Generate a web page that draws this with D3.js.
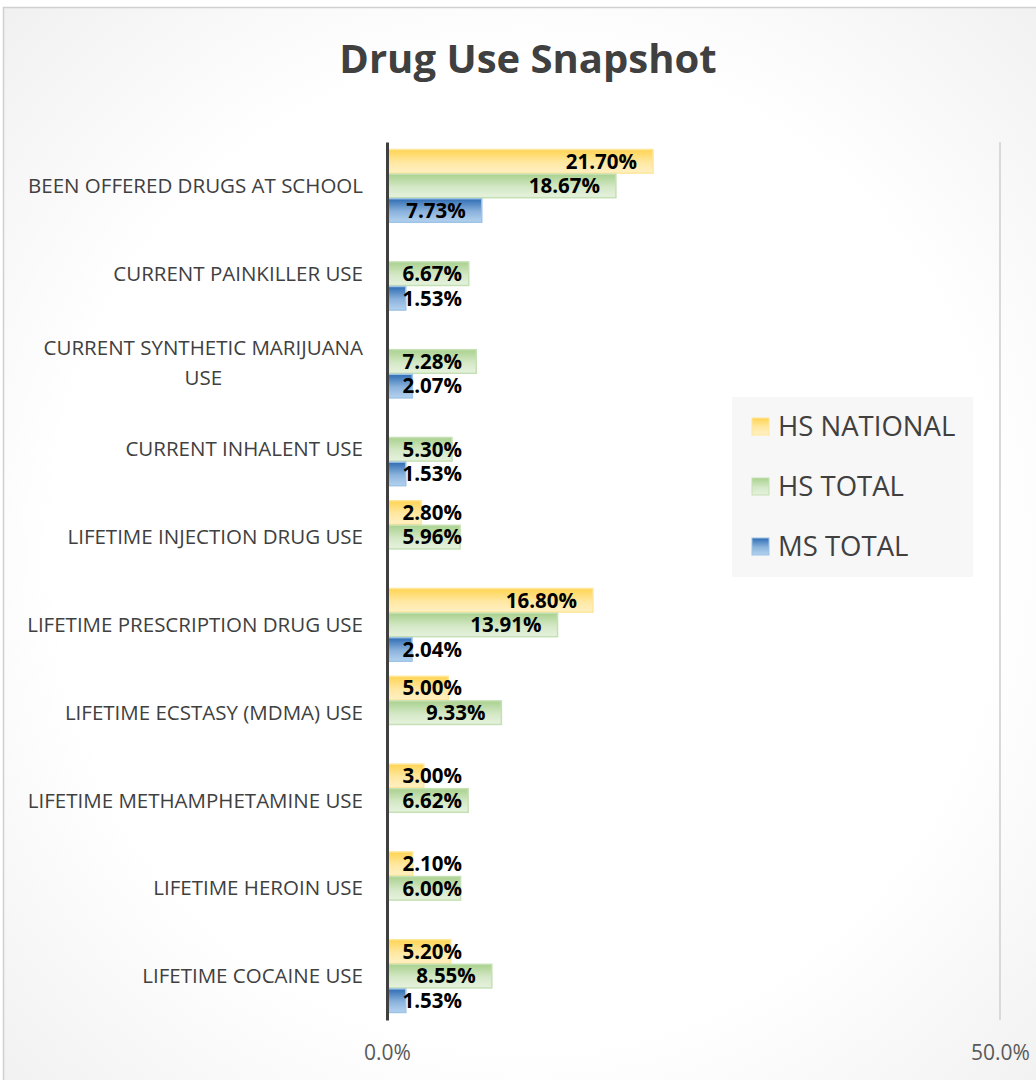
<!DOCTYPE html>
<html><head><meta charset="utf-8">
<script src="https://cdn.jsdelivr.net/npm/d3@7"></script>
<style>body{margin:0;background:#fff;}svg{display:block;}</style>
</head><body>
<script>
const categories = ["BEEN OFFERED DRUGS AT SCHOOL","CURRENT PAINKILLER USE","CURRENT SYNTHETIC MARIJUANA USE","CURRENT INHALENT USE","LIFETIME INJECTION DRUG USE","LIFETIME PRESCRIPTION DRUG USE","LIFETIME ECSTASY (MDMA) USE","LIFETIME METHAMPHETAMINE USE","LIFETIME HEROIN USE","LIFETIME COCAINE USE"];
const seriesNames = ["HS NATIONAL","HS TOTAL","MS TOTAL"];
const hsNational = [21.70, null, null, null, 2.80, 16.80, 5.00, 3.00, 2.10, 5.20];
const hsTotal    = [18.67, 6.67, 7.28, 5.30, 5.96, 13.91, 9.33, 6.62, 6.00, 8.55];
const msTotal    = [7.73, 1.53, 2.07, 1.53, null, 2.04, null, null, null, 1.53];
const xTicks = [0, 50];

const W = 1036, H = 1080;
const svg = d3.select("body").append("svg").attr("width", W).attr("height", H);
const defs = svg.append("defs");

const bg = defs.append("radialGradient").attr("id","bg").attr("cx","50%").attr("cy","50%").attr("r","75%");
bg.append("stop").attr("offset","0%").attr("stop-color","#ffffff");
bg.append("stop").attr("offset","60%").attr("stop-color","#ffffff");
bg.append("stop").attr("offset","100%").attr("stop-color","#eeeeee");

const grads = [
  {id:"gY", top:"#ffd452", bot:"#fff0c4", stroke:"#ffe699"},
  {id:"gG", top:"#a9d18e", bot:"#e6f2de", stroke:"#c5e0b4"},
  {id:"gB", top:"#2e6cb3", bot:"#b4d2ef", stroke:"#9dc3e6"}
];
grads.forEach(g => {
  const lg = defs.append("linearGradient").attr("id", g.id).attr("x1",0).attr("y1",0).attr("x2",0).attr("y2",1);
  lg.append("stop").attr("offset","0%").attr("stop-color", g.top);
  lg.append("stop").attr("offset","55%").attr("stop-color", d3.interpolateRgb(g.top, g.bot)(0.7));
  lg.append("stop").attr("offset","100%").attr("stop-color", g.bot);
});

svg.append("rect").attr("x",3.5).attr("y",7.5).attr("width",W+10).attr("height",H+10)
  .attr("fill","url(#bg)").attr("stroke","#d0d0d0").attr("stroke-width",1.5);

svg.append("text").attr("x",528).attr("y",73).attr("text-anchor","middle")
  .attr("font-family","Open Sans, sans-serif").attr("font-weight","bold").attr("font-size",40)
  .attr("fill","#404040").text("Drug Use Snapshot");

const x0 = 387, x1 = 1000, yTop = 142, yBot = 1020;
const x = d3.scaleLinear().domain([0, 50]).range([x0, x1]);
const y = d3.scaleBand().domain(categories).range([yTop, yBot]).paddingInner(0.16).paddingOuter(0.08);
const ySub = d3.scaleBand().domain(seriesNames).range([0, y.bandwidth()]);

const seriesData = [hsNational, hsTotal, msTotal];

// right gridline
svg.append("line").attr("x1",x(50)).attr("x2",x(50)).attr("y1",yTop).attr("y2",yBot)
  .attr("stroke","#d9d9d9").attr("stroke-width",2);

const gBars = svg.append("g");
seriesData.forEach((arr, si) => {
  arr.forEach((v, ci) => {
    if (v == null) return;
    const yy = y(categories[ci]) + ySub(seriesNames[si]);
    gBars.append("rect").attr("x", x(0)).attr("y", yy + 0.5)
      .attr("width", x(v) - x(0)).attr("height", ySub.bandwidth() - 1)
      .attr("fill", `url(#${grads[si].id})`).attr("stroke", grads[si].stroke).attr("stroke-width", 1.5);
  });
});
seriesData.forEach((arr, si) => {
  arr.forEach((v, ci) => {
    if (v == null) return;
    const yy = y(categories[ci]) + ySub(seriesNames[si]) + ySub.bandwidth()/2;
    svg.append("text").attr("x", Math.max(x(v) - 16, x(0) + 75)).attr("y", yy)
      .attr("dy","0.36em").attr("text-anchor","end")
      .attr("font-family","Open Sans, sans-serif").attr("font-weight","bold").attr("font-size",20.5)
      .attr("fill","#000").text(v.toFixed(2) + "%");
  });
});

// axis line
const yAxis = d3.axisLeft(y).tickSize(0).tickFormat("");
svg.append("g").attr("transform",`translate(${x0},0)`).call(yAxis)
  .select(".domain").attr("stroke","#404040").attr("stroke-width",3);

// category labels
const catFont = 20.5;
categories.forEach(c => {
  const cy = y(c) + y.bandwidth()/2;
  const words = c === "CURRENT SYNTHETIC MARIJUANA USE" ? ["CURRENT SYNTHETIC MARIJUANA","USE"] : [c];
  if (words.length === 1) {
    svg.append("text").attr("x",363).attr("y",cy).attr("dy","0.35em").attr("text-anchor","end")
      .attr("font-family","Open Sans, sans-serif").attr("font-size",catFont).attr("fill","#404040").text(c);
  } else {
    const t1 = svg.append("text").attr("x",363).attr("y",cy - 14).attr("dy","0.35em").attr("text-anchor","end")
      .attr("font-family","Open Sans, sans-serif").attr("font-size",catFont).attr("fill","#404040").text(words[0]);
    const w1 = t1.node().getComputedTextLength();
    svg.append("text").attr("x",363 - w1/2).attr("y",cy + 16).attr("dy","0.35em").attr("text-anchor","middle")
      .attr("font-family","Open Sans, sans-serif").attr("font-size",catFont).attr("fill","#404040").text(words[1]);
  }
});

// x tick labels
const xAxis = d3.axisBottom(x).tickValues(xTicks).tickSize(0).tickPadding(0).tickFormat(d => d.toFixed(1) + "%");
const gx = svg.append("g").attr("transform",`translate(0,1053)`).call(xAxis);
gx.select(".domain").remove();
gx.selectAll("text").attr("font-family","Open Sans, sans-serif").attr("font-size",21).attr("fill","#595959").attr("dy","0.35em");

// legend
const lg = svg.append("g");
lg.append("rect").attr("x",732).attr("y",397).attr("width",241).attr("height",180).attr("fill","#f7f7f7");
seriesNames.forEach((s, i) => {
  const cy = 426 + i*60;
  lg.append("rect").attr("x",752).attr("y",cy-8).attr("width",17).attr("height",17)
    .attr("fill",`url(#${grads[i].id})`).attr("stroke",grads[i].stroke).attr("stroke-width",1);
  lg.append("text").attr("x",778).attr("y",cy).attr("dy","0.36em")
    .attr("font-family","Open Sans, sans-serif").attr("font-size",27.5).attr("fill","#404040").text(s);
});
</script>
</body></html>
